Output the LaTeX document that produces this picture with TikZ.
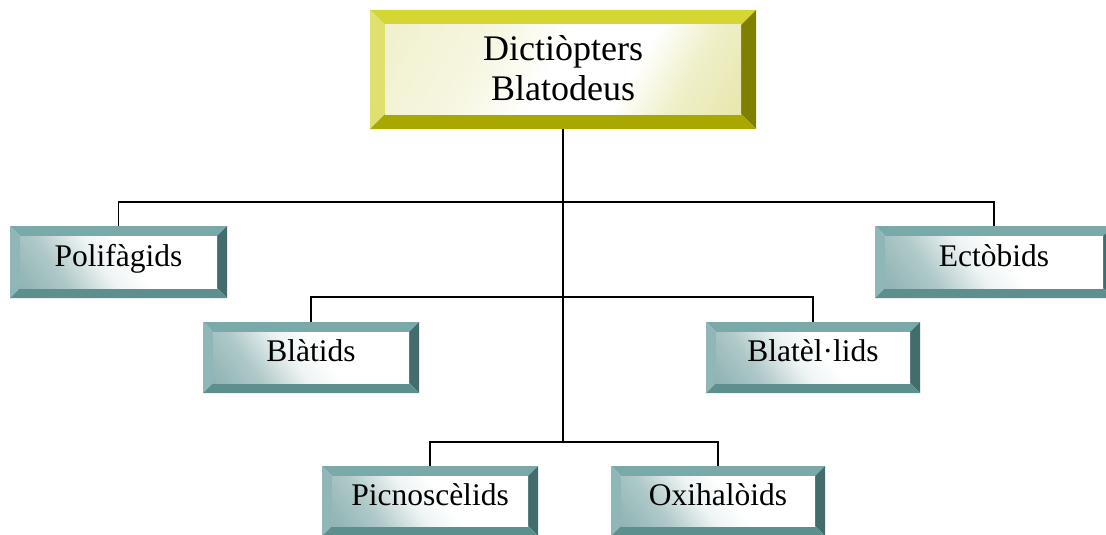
\documentclass[tikz,border=0pt]{standalone}
\usepackage{fontspec}
\setmainfont{Liberation Serif}
\definecolor{tTop}{HTML}{7AA9A9}
\definecolor{tLeft}{HTML}{8FB7B7}
\definecolor{tRight}{HTML}{416D6D}
\definecolor{tBot}{HTML}{5E8F8F}
\definecolor{tIn}{HTML}{6E9C9C}
\definecolor{yTop}{HTML}{D6D633}
\definecolor{yLeft}{HTML}{E0E070}
\definecolor{yRight}{HTML}{808000}
\definecolor{yBot}{HTML}{A9A800}
\definecolor{yIn}{HTML}{DCDC88}
\pgfdeclarehorizontalshading{tsh}{100bp}{color(0bp)=(tIn); color(30bp)=(tIn!55!white); color(44bp)=(tIn!12!white); color(55bp)=(white); color(100bp)=(white)}
\pgfdeclarehorizontalshading{ysh}{100bp}{color(0bp)=(yIn!55!white); color(35bp)=(yIn!25!white); color(48bp)=(white); color(62bp)=(white); color(72bp)=(yIn!45!white); color(100bp)=(yIn)}
\tikzset{
  conn/.style={draw=black, line width=1.6pt},
  lbl/.style={inner sep=0pt, outer sep=0pt, align=center, text=black},
  tealbox/.style={lbl, anchor=base, yshift=-4pt, font=\fontsize{31.5}{38}\selectfont},
  yelbox/.style={lbl, yshift=1pt, font=\fontsize{36}{40}\selectfont},
  tshade/.style={shading=tsh, shading angle=35},
  yshade/.style={shading=ysh, shading angle=-30}
}
% name, x1, y1, x2, y2, bevel, colour prefix, text style, inner-shade style
\newcommand\bevelbox[9]{%
  \fill[#7Top] (#2,#3) -- (#4,#3) -- ({#4-#6},{#3+#6}) -- ({#2+#6},{#3+#6}) -- cycle;
  \fill[#7Left] (#2,#3) -- ({#2+#6},{#3+#6}) -- ({#2+#6},{#5-#6}) -- (#2,#5) -- cycle;
  \fill[#7Right] (#4,#3) -- ({#4-#6},{#3+#6}) -- ({#4-#6},{#5-#6}) -- (#4,#5) -- cycle;
  \fill[#7Bot] (#2,#5) -- ({#2+#6},{#5-#6}) -- ({#4-#6},{#5-#6}) -- (#4,#5) -- cycle;
  \shade[#9] ({#2+#6},{#3+#6}) rectangle ({#4-#6},{#5-#6});
  \node[lbl, minimum width={(#4-#2)*1pt}, minimum height={(#5-#3)*1pt}] (#1) at ({(#2+#4)/2},{(#3+#5)/2}) {};
  \node[#8] (#1-t) at (#1.center) {\csname bt@#1\endcsname};
}
\expandafter\def\csname bt@top\endcsname{Dictiòpters\\Blatodeus}
\expandafter\def\csname bt@poli\endcsname{Polifàgids}
\expandafter\def\csname bt@ecto\endcsname{Ectòbids}
\expandafter\def\csname bt@blat\endcsname{Blàtids}
\expandafter\def\csname bt@blel\endcsname{Blatèl·lids}
\expandafter\def\csname bt@picn\endcsname{Picnoscèlids}
\expandafter\def\csname bt@oxih\endcsname{Oxihalòids}
\begin{document}
\begin{tikzpicture}[x=1pt,y=-1pt]
\useasboundingbox (0,0) rectangle (1106,535);
\clip (0,0) rectangle (1106,535);
% junction points of the connectors
\coordinate (j1) at (563,202);
\coordinate (j2) at (563,297);
\coordinate (j3) at (563,442);
% boxes
\bevelbox{top}{370}{10}{756}{129}{15}{y}{yelbox}{yshade}
\bevelbox{poli}{10}{226}{227}{298}{10}{t}{tealbox}{tshade}
\bevelbox{ecto}{875}{226}{1113}{298}{10}{t}{tealbox}{tshade}
\bevelbox{blat}{203}{322}{419}{393}{10}{t}{tealbox}{tshade}
\bevelbox{blel}{706}{322}{920}{393}{10}{t}{tealbox}{tshade}
\bevelbox{picn}{322}{466}{538}{536}{10}{t}{tealbox}{tshade}
\bevelbox{oxih}{611}{466}{825}{536}{10}{t}{tealbox}{tshade}
% connectors
\draw[conn] (top.south) -- (j3);
\draw[conn] (poli.north) |- (j1) -| (ecto.north);
\draw[conn] (blat.north) |- (j2) -| (blel.north);
\draw[conn] (picn.north) |- (j3) -| (oxih.north);
\end{tikzpicture}
\end{document}
